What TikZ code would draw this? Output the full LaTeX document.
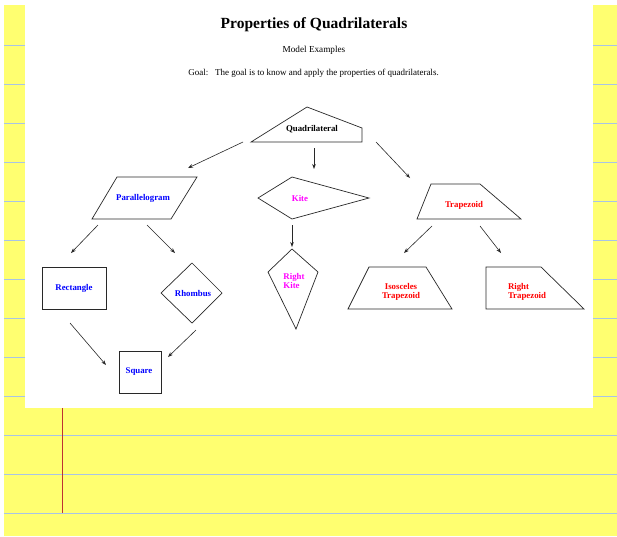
\documentclass[tikz,border=0pt]{standalone}
\usepackage{fontspec}
\setmainfont{Liberation Serif}
\usetikzlibrary{arrows.meta}
\definecolor{paper}{RGB}{255,255,112}
\definecolor{ruleblue}{RGB}{168,196,230}
\definecolor{margin}{RGB}{190,50,50}
\definecolor{shapegray}{RGB}{40,40,40}
\definecolor{pmag}{RGB}{255,0,255}
\definecolor{pblue}{RGB}{0,0,255}
\definecolor{pred}{RGB}{255,0,0}
\tikzset{
  shp/.style={draw=shapegray, line width=0.7pt, line join=miter},
  lbl/.style={font=\bfseries\fontsize{8.8}{9.4}\selectfont, align=left, inner sep=0pt},
  arr/.style={draw=shapegray, line width=0.6pt, -{Stealth[length=5pt,width=3.6pt]}},
}
\begin{document}
\begin{tikzpicture}[x=1pt,y=-1pt]
\useasboundingbox (0,0) rectangle (617,536);
% paper
\fill[white] (0,0) rectangle (617,536);
\fill[paper] (4,5) rectangle (617,536);
\foreach \yy in {45,84,123,162,201,240,279,318,357,396,435,474,513}
  \draw[ruleblue, line width=0.8pt] (4,\yy) -- (617,\yy);
\draw[margin, line width=0.7pt] (62,5) -- (62,513);
\fill[white] (25,0) rectangle (593,408);
% titles
\node[font=\bfseries\fontsize{15.5}{17}\selectfont, inner sep=0pt] (title) at (314,25) {Properties of Quadrilaterals};
\node[font=\fontsize{9.2}{10}\selectfont, inner sep=0pt] (sub) at (314,50) {Model Examples};
\node[font=\fontsize{9}{10}\selectfont, inner sep=0pt] (goal) at (313.5,73) {Goal:\hspace{0.75em}The goal is to know and apply the properties of quadrilaterals.};
% shapes
\draw[shp] (307,107) -- (362,128) -- (362,142) -- (251,142) -- cycle;
\node[lbl] (quad) at (312,129) {Quadrilateral};
\draw[shp] (117,177) -- (197,177) -- (171,219) -- (92,219) -- cycle;
\node[lbl, text=pblue] (para) at (143,198) {Parallelogram};
\draw[shp] (258,198) -- (292,177) -- (369,198) -- (292,219) -- cycle;
\node[lbl, text=pmag] (kite) at (300,198) {Kite};
\draw[shp] (431,184) -- (480,184) -- (521,219) -- (417,219) -- cycle;
\node[lbl, text=pred] (trap) at (464,205) {Trapezoid};
\draw[shp] (42,267) rectangle (106,309);
\node[lbl, text=pblue] (rect) at (74,288) {Rectangle};
\draw[shp] (192,263) -- (222,293) -- (192,323) -- (161,293) -- cycle;
\node[lbl, text=pblue] (rhom) at (193,293) {Rhombus};
\draw[shp] (119,351) rectangle (161,393);
\node[lbl, text=pblue] (sq) at (139,372) {Square};
\draw[shp] (292,249) -- (318,272) -- (296,329) -- (268,272) -- cycle;
\node[lbl, text=pmag] (rkite) at (294,281) {Right\\Kite};
\draw[shp] (369,267) -- (426,267) -- (452,309) -- (348,309) -- cycle;
\node[lbl, text=pred, align=center] (iso) at (401,292) {Isosceles\\Trapezoid};
\draw[shp] (486,267) -- (541,267) -- (584,309) -- (486,309) -- cycle;
\node[lbl, text=pred] (rtrap) at (527,292) {Right\\Trapezoid};
% connector end points
\coordinate (q1) at (243,142); \coordinate (q1e) at (188,168);
\coordinate (q2) at (314,148); \coordinate (q2e) at (314,169);
\coordinate (q3) at (376,142); \coordinate (q3e) at (410,178);
\coordinate (p1) at (98,225);  \coordinate (p1e) at (71,253);
\coordinate (p2) at (147,225); \coordinate (p2e) at (175,253);
\coordinate (k1) at (292,225); \coordinate (k1e) at (292,247);
\coordinate (t1) at (432,226); \coordinate (t1e) at (404,253);
\coordinate (t2) at (480,226); \coordinate (t2e) at (501,253);
\coordinate (r1) at (70,323);  \coordinate (r1e) at (106,365);
\coordinate (h1) at (196,330); \coordinate (h1e) at (168,357);
\draw[arr] (q1) -- (q1e);
\draw[arr] (q2) -- (q2e);
\draw[arr] (q3) -- (q3e);
\draw[arr] (p1) -- (p1e);
\draw[arr] (p2) -- (p2e);
\draw[arr] (k1) -- (k1e);
\draw[arr] (t1) -- (t1e);
\draw[arr] (t2) -- (t2e);
\draw[arr] (r1) -- (r1e);
\draw[arr] (h1) -- (h1e);
\end{tikzpicture}
\end{document}
